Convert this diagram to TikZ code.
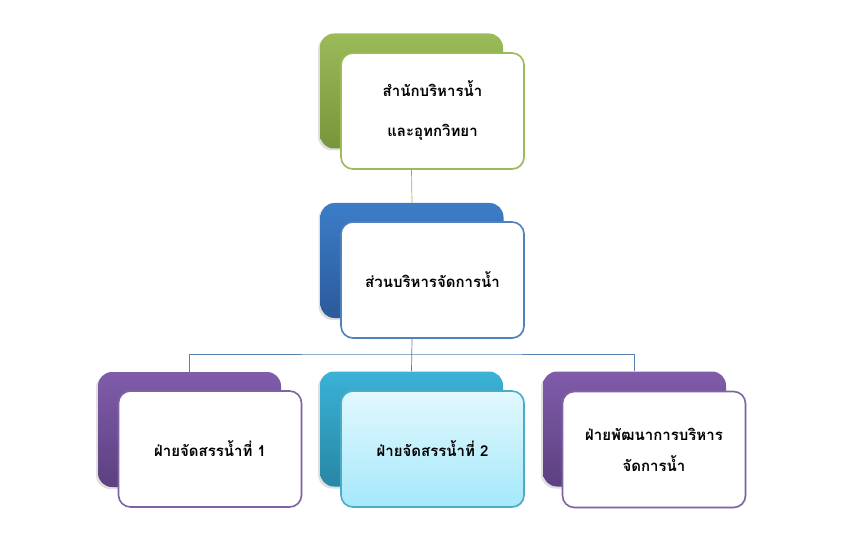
\documentclass[tikz,border=0pt]{standalone}
\usepackage{fontspec}
\newfontfamily\thaifont[Script=Thai]{Loma}
\usepackage{tikz}
\usetikzlibrary{shadows}
\definecolor{grn}{RGB}{155,187,89}
\definecolor{grndk}{RGB}{118,150,58}
\definecolor{blu}{RGB}{79,129,189}
\definecolor{blutop}{RGB}{60,125,200}
\definecolor{bludk}{RGB}{44,90,155}
\definecolor{pur}{RGB}{128,100,162}
\definecolor{purtop}{RGB}{128,92,170}
\definecolor{purdk}{RGB}{92,64,128}
\definecolor{tea}{RGB}{75,172,198}
\definecolor{teatop}{RGB}{58,178,214}
\definecolor{teadk}{RGB}{40,135,165}
\definecolor{icetop}{RGB}{226,248,254}
\definecolor{icedk}{RGB}{165,232,250}
\tikzstyle{backbox}=[rectangle,rounded corners=14pt,draw=none,
                     minimum width=183pt,minimum height=115pt,
                     drop shadow={shadow xshift=-2pt,shadow yshift=-2pt,opacity=.25}]
\tikzstyle{frontbox}=[rectangle,rounded corners=12pt,fill=white,line width=1.6pt,
                      minimum width=183pt,minimum height=116pt,align=center,
                      font=\thaifont\bfseries\fontsize{15}{31}\selectfont,
                      drop shadow={shadow xshift=1pt,shadow yshift=-1pt,opacity=.15}]
\tikzstyle{link}=[line width=.7pt]

\begin{document}
\begin{tikzpicture}[x=1pt,y=-1pt]
    \useasboundingbox (0,0) rectangle (843,553);
    % top level
    \node (t0) at (411.5, 91) [backbox,top color=grn,bottom color=grndk]{};
    \node (t1) at (432.5,111) [frontbox,draw=grn]{สำนักบริหารน้ำ\\[9pt]และอุทกวิทยา};
    % second level
    \node (m0) at (412,260.5) [backbox,top color=blutop,bottom color=bludk]{};
    \node (m1) at (432.5,280) [frontbox,draw=blu]{ส่วนบริหารจัดการน้ำ};
    % third level
    \node (b10) at (189.5,429.5) [backbox,top color=purtop,bottom color=purdk]{};
    \node (b11) at (210,449)     [frontbox,draw=pur]{ฝ่ายจัดสรรน้ำที่ 1};
    \node (b20) at (411.5,429)   [backbox,top color=teatop,bottom color=teadk]{};
    \node (b21) at (432.5,449)   [frontbox,draw=tea,top color=icetop,bottom color=icedk]{ฝ่ายจัดสรรน้ำที่ 2};
    \node (b30) at (634.5,429)   [backbox,top color=purtop,bottom color=purdk]{};
    \node (b31) at (654,449.5)   [frontbox,draw=pur]{ฝ่ายพัฒนาการบริหาร\\จัดการน้ำ};
    \coordinate (j) at (412,354);
    \draw[link,grn!80!gray] (t0.south |- t1.south) -- (m0.north);
    \draw[link,blu!80!gray] (m0.south |- m1.south) -- (b20.north);
    \draw[link,blu!80!gray] (b10.north) |- (j) -| (b30.north);
  \end{tikzpicture}
\end{document}
